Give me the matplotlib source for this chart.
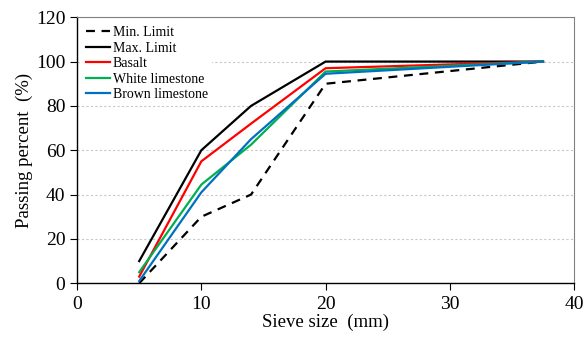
import matplotlib.pyplot as plt

# sieve sizes (mm)
sieve = [5, 10, 14, 20, 37.5]

# passing percent
min_limit = [0, 30, 40, 90, 100]
max_limit = [10, 60, 80, 100, 100]
basalt = [3, 55, 72, 97, 100]
white_lime = [5, 44.5, 62.5, 95.5, 100]
brown_lime = [1, 41, 65, 94.5, 100]

plt.rcParams['font.family'] = ['Liberation Serif', 'DejaVu Serif']

fig = plt.figure(figsize=(5.84, 3.38), dpi=100)
ax = fig.add_axes([0.132, 0.162, 0.851, 0.787])

ax.plot(sieve, min_limit, color='black', lw=1.6, ls=(0, (4, 3)), label='Min. Limit')
ax.plot(sieve, max_limit, color='black', lw=1.6, label='Max. Limit')
ax.plot(sieve, basalt, color='#FF0000', lw=1.6, label='Basalt')
ax.plot(sieve, white_lime, color='#00B050', lw=1.6, label='White limestone')
ax.plot(sieve, brown_lime, color='#0070C0', lw=1.6, label='Brown limestone')

ax.set_xlim(0, 40)
ax.set_ylim(0, 120)
ax.set_xticks([0, 10, 20, 30, 40])
ax.set_yticks([0, 20, 40, 60, 80, 100, 120])
ax.tick_params(labelsize=14, direction='out', length=5, width=0.8)
ax.tick_params(axis='x', pad=4)
ax.yaxis.grid(True, color='#C8C8C8', ls=(0, (2, 2)), lw=0.8)
ax.set_axisbelow(True)

for s in ['top', 'right']:
    ax.spines[s].set_color('#808080')
    ax.spines[s].set_linewidth(0.8)
for s in ['left', 'bottom']:
    ax.spines[s].set_linewidth(1.0)

ax.set_xlabel('Sieve size  (mm)', fontsize=13.5, labelpad=1)
ax.set_ylabel('Passing percent  (%)', fontsize=13.5, labelpad=2)

leg = ax.legend(loc='upper left', fontsize=10, frameon=True, framealpha=1,
                edgecolor='none', fancybox=False, handlelength=1.75,
                handletextpad=0.15, labelspacing=0.18, borderpad=0.3,
                borderaxespad=0.35)

fig.savefig('out.png', dpi=100)
